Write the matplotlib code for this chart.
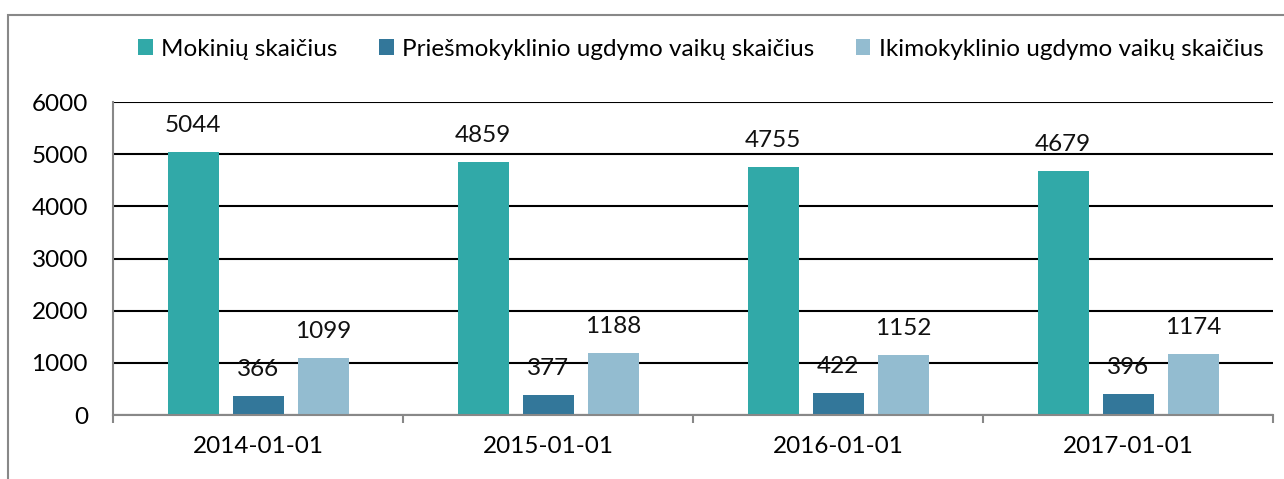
import matplotlib
matplotlib.use("Agg")
import matplotlib.pyplot as plt
from matplotlib.patches import Rectangle
import numpy as np

categories = ["2014-01-01", "2015-01-01", "2016-01-01", "2017-01-01"]
series_names = ["Mokinių skaičius", "Priešmokyklinio ugdymo vaikų skaičius",
                "Ikimokyklinio ugdymo vaikų skaičius"]
mokiniai = [5044, 4859, 4755, 4679]
priesmok = [366, 377, 422, 396]
ikimok = [1099, 1188, 1152, 1174]
colors = ["#31A9A8", "#33779A", "#93BCD0"]

plt.rcParams['font.family'] = ['Lato', 'DejaVu Sans']
FS = 17.5

fig = plt.figure(figsize=(12.84, 4.79), dpi=100)
ax = fig.add_axes([113/1284, 64/479, (1273-113)/1284, (415-102)/479])

x = np.arange(len(categories))
w = 51/290
step = 65/290
for i, (vals, name, c) in enumerate(zip([mokiniai, priesmok, ikimok], series_names, colors)):
    pos = x + (i-1)*step
    bars = ax.bar(pos, vals, width=w, color=c, label=name, zorder=3)
    for b, v in zip(bars, vals):
        ax.annotate(str(v), (b.get_x()+b.get_width()/2, v), xytext=(0, 19),
                    textcoords='offset points', ha='center', va='center',
                    fontsize=FS, color='#111111', zorder=4)

ax.set_xlim(-0.5, len(categories)-0.5)
ax.set_ylim(0, 6000)
ax.set_yticks(range(0, 6001, 1000))
ax.yaxis.grid(True, color='black', linewidth=1.5, zorder=1)
ax.set_axisbelow(True)
ax.tick_params(axis='y', length=0, pad=18, labelsize=FS)
ax.set_xticks(x)
ax.set_xticklabels(categories)
ax.set_xticks(np.arange(-0.5, len(categories), 1), minor=True)
ax.tick_params(axis='x', which='major', length=0, pad=15, labelsize=FS)
ax.tick_params(axis='x', which='minor', length=6, width=1.5, color='#888888', direction='out')
for s in ['top', 'right']:
    ax.spines[s].set_visible(False)
for s in ['left', 'bottom']:
    ax.spines[s].set_color('#888888')
    ax.spines[s].set_linewidth(1.5)
ax.spines['bottom'].set_zorder(5)

leg = fig.legend(loc='center', bbox_to_anchor=(701/1284, 1-49/479), ncol=3, frameon=False,
                 fontsize=FS, handlelength=0.6, handleheight=0.6, handletextpad=0.35,
                 columnspacing=1.7)

fig.patches.append(Rectangle((8/1284, -0.05), 1.2, 1-15/479+0.05, transform=fig.transFigure,
                             fill=False, edgecolor='#888888', linewidth=1.5))

fig.savefig("out.png", dpi=100, facecolor='white')
